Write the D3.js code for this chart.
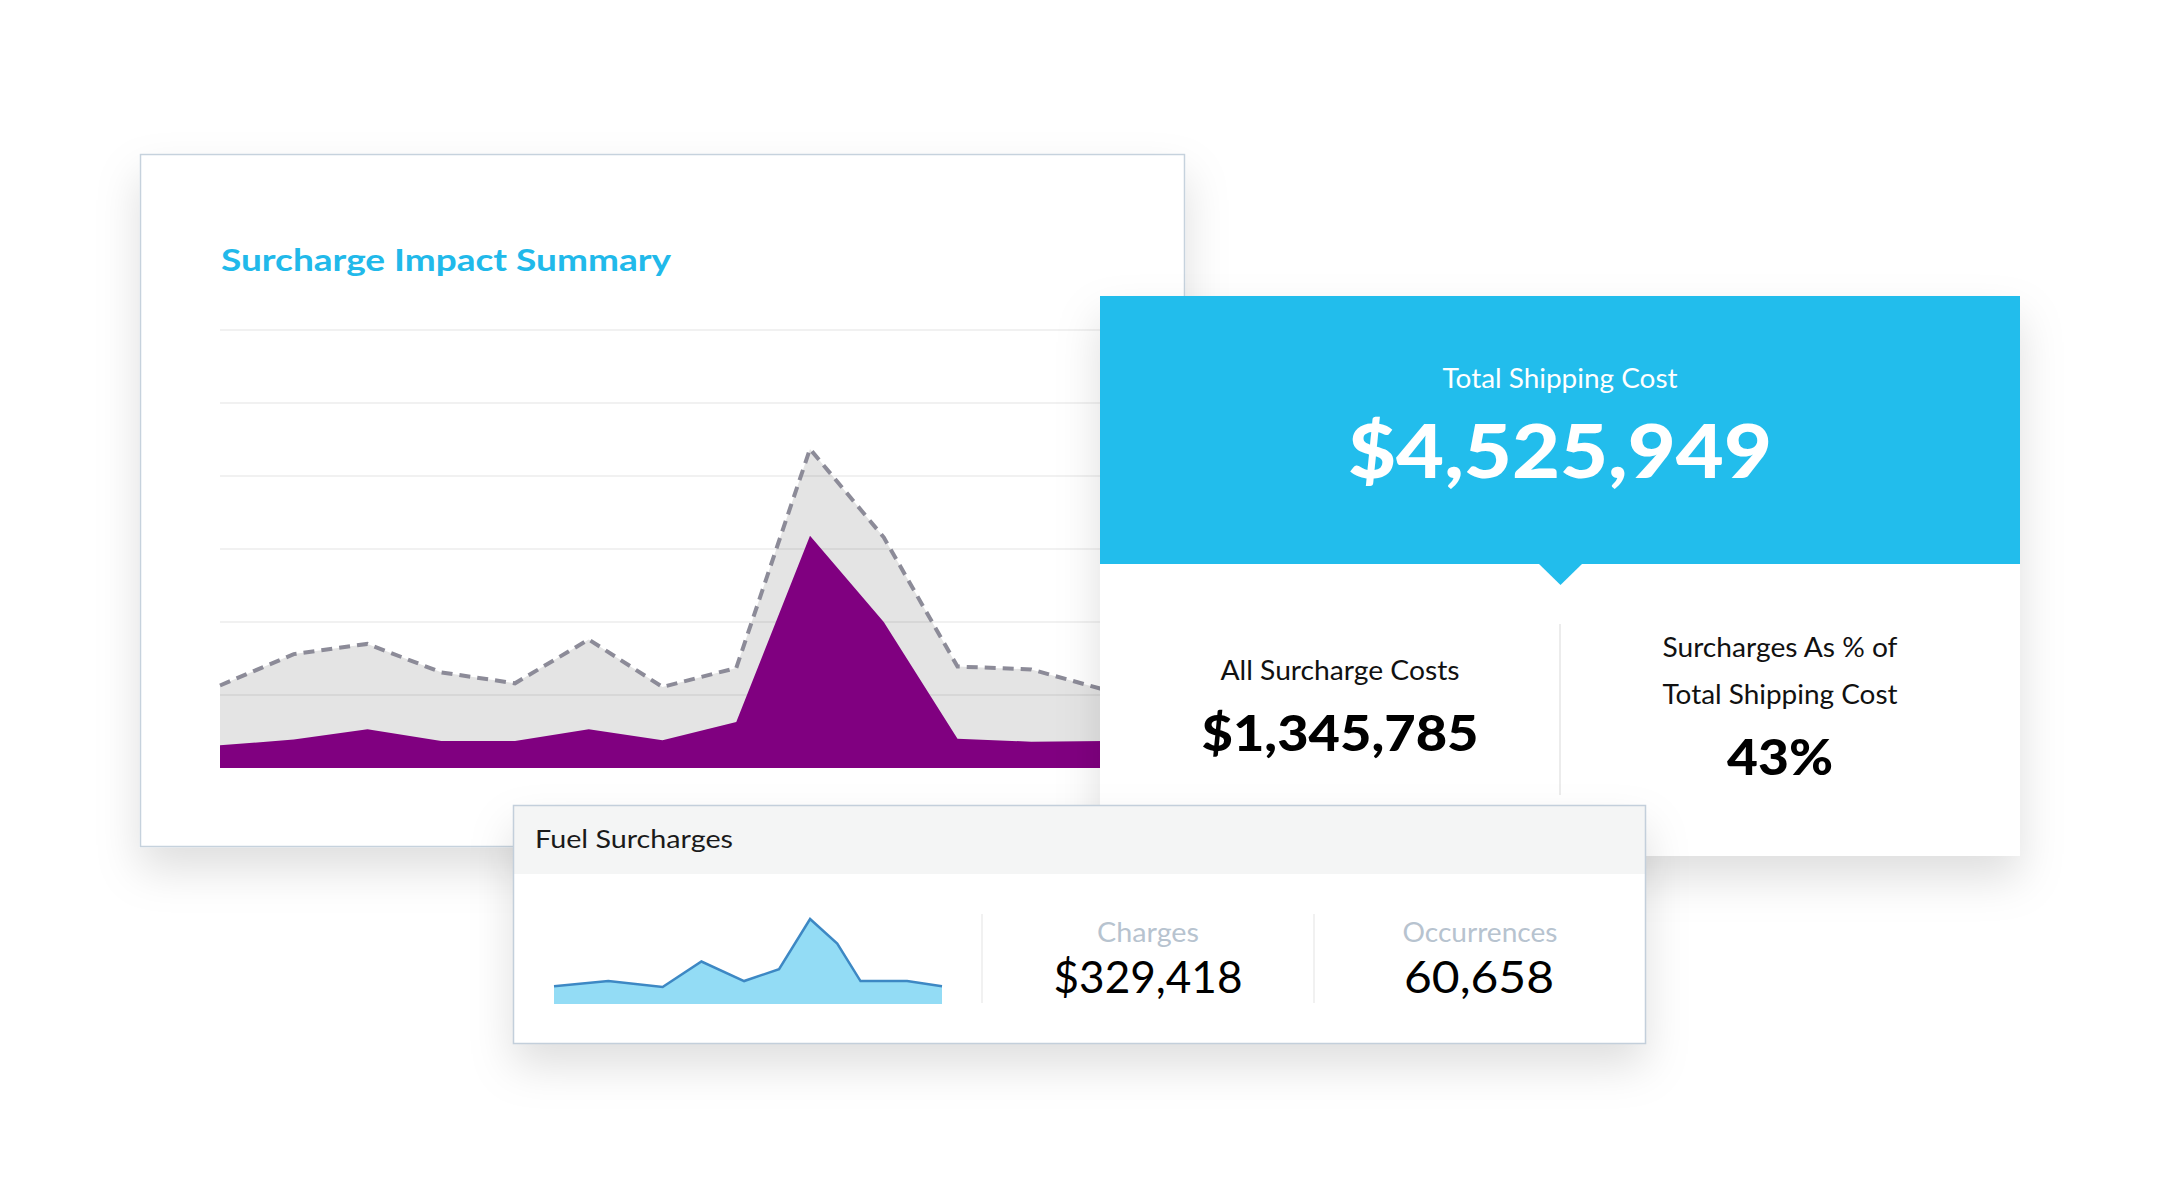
<!DOCTYPE html>
<html>
<head>
<meta charset="utf-8">
<script src="https://cdn.jsdelivr.net/npm/d3@7"></script>
<style>
    html, body { margin: 0; background: #fff; }
    svg { display: block; }
    text { font-family: Lato, "Open Sans", sans-serif; }
</style>
</head>
<body>
<svg width="2160" height="1200"></svg>
<script>
// chart data
const periods = ['W1', 'W2', 'W3', 'W4', 'W5', 'W6', 'W7', 'W8', 'W9', 'W10', 'W11', 'W12', 'W13']
const totalCost = [113, 156, 170, 131, 116, 176, 111, 137, 437, 316, 139, 135, 107]
const surchargeCost = [31, 39, 53, 37, 37, 53, 38, 63, 318, 200, 40, 36, 37]
const gridTicks = [100, 200, 300, 400, 500, 600]

// fuel sparkline
const fuelDays = [0, 14, 28, 38, 49, 58, 66, 73, 79, 91, 100]
const fuelCharges = [21, 27, 20, 50, 27, 41, 100, 71, 27, 27, 21]

// kpi texts
const title = 'Surcharge Impact Summary'
const kpiLabels = ['Total Shipping Cost', 'All Surcharge Costs', 'Surcharges As % of', 'Total Shipping Cost']
const kpiValues = ['$4,525,949', '$1,345,785', '43%']
const fuelTitle = 'Fuel Surcharges'
const fuelLabels = ['Charges', 'Occurrences']
const fuelValues = ['$329,418', '60,658']

let svg = d3.select('svg')

let defs = svg.append('defs')
defs.append('filter')
    .attr('id', 'shadow')
    .attr('x', '-20%').attr('y', '-20%')
    .attr('width', '140%').attr('height', '170%')
    .append('feDropShadow')
    .attr('dx', 0).attr('dy', 22)
    .attr('stdDeviation', 22)
    .attr('flood-color', '#000')
    .attr('flood-opacity', 0.13)

// text squeezed/stretched to the width it has in the picture
function label(g, txt, x, y, size, weight, color, anchor, width) {
    let t = g.append('text')
        .attr('x', x)
        .attr('y', y)
        .attr('font-size', size)
        .attr('font-weight', weight)
        .attr('fill', color)
        .attr('text-anchor', anchor)
        .text(txt)
    if (width) t.attr('textLength', width).attr('lengthAdjust', 'spacingAndGlyphs')
    return t
}

// ---- main card ----
let main = svg.append('g')
main.append('rect')
    .attr('x', 140.5).attr('y', 154.5)
    .attr('width', 1044).attr('height', 692)
    .attr('fill', '#fff')
    .attr('stroke', '#c6d2dd')
    .attr('stroke-width', 1.5)
    .attr('filter', 'url(#shadow)')

label(main, title, 221, 271, 30, 700, '#21b9ea', 'start', 450)

let scale = {
    x: d3.scalePoint().domain(periods).range([220, 1105]),
    y: d3.scaleLinear().domain([0, 600]).range([768, 330])
}

let totalArea = d3.area()
    .x((d, i) => scale.x(periods[i]))
    .y0(scale.y(0))
    .y1(d => scale.y(d))

main.append('path')
    .datum(totalCost)
    .attr('d', totalArea)
    .attr('fill', '#e4e4e4')

// gridlines
main.selectAll('.grid')
    .data(gridTicks)
    .enter()
    .append('line')
    .attr('class', 'grid')
    .attr('x1', scale.x.range()[0])
    .attr('x2', scale.x.range()[1])
    .attr('y1', d => scale.y(d))
    .attr('y2', d => scale.y(d))
    .attr('stroke', 'rgba(0,0,0,0.055)')
    .attr('stroke-width', 2)

main.append('path')
    .datum(surchargeCost)
    .attr('d', totalArea)
    .attr('fill', '#800080')

main.append('path')
    .datum(totalCost)
    .attr('d', d3.line().x((d, i) => scale.x(periods[i])).y(d => scale.y(d)))
    .attr('fill', 'none')
    .attr('stroke', '#8c8b98')
    .attr('stroke-width', 4)
    .attr('stroke-dasharray', '11,7')

// ---- total shipping card ----
let card = svg.append('g')
let cardBody = card.append('g').attr('filter', 'url(#shadow)')
cardBody.append('rect')
    .attr('x', 1100).attr('y', 296)
    .attr('width', 920).attr('height', 560)
    .attr('fill', '#fff')
cardBody.append('rect')
    .attr('x', 1100).attr('y', 296)
    .attr('width', 920).attr('height', 268)
    .attr('fill', '#23bdec')
cardBody.append('path')
    .attr('d', 'M1538,563 L1583,563 L1560.5,585 Z')
    .attr('fill', '#23bdec')

card.append('line')
    .attr('x1', 1560).attr('x2', 1560)
    .attr('y1', 624).attr('y2', 795)
    .attr('stroke', '#ececec')
    .attr('stroke-width', 2)

label(card, kpiLabels[0], 1560, 388, 27, 400, '#fff', 'middle', 235)
label(card, kpiValues[0], 1560, 478, 75, 900, '#fff', 'middle', 424)
label(card, kpiLabels[1], 1340, 680, 26, 400, '#111', 'middle', 239)
label(card, kpiValues[1], 1340, 751, 49, 900, '#000', 'middle', 277)
label(card, kpiLabels[2], 1780, 657, 26, 400, '#111', 'middle', 235)
label(card, kpiLabels[3], 1780, 704, 26, 400, '#111', 'middle', 235)
label(card, kpiValues[2], 1780, 775, 50, 900, '#000', 'middle', 106)

// ---- fuel surcharges card ----
let fuel = svg.append('g')
let fuelBox = fuel.append('g').attr('filter', 'url(#shadow)')
fuelBox.append('rect')
    .attr('x', 513.5).attr('y', 805.5)
    .attr('width', 1132).attr('height', 238)
    .attr('fill', '#fff')
fuel.append('rect')
    .attr('x', 514).attr('y', 806)
    .attr('width', 1131).attr('height', 68)
    .attr('fill', '#f4f5f5')
fuel.append('rect')
    .attr('x', 513.5).attr('y', 805.5)
    .attr('width', 1132).attr('height', 238)
    .attr('fill', 'none')
    .attr('stroke', '#c3cfdb')
    .attr('stroke-width', 1.5)

label(fuel, fuelTitle, 535, 848, 25, 400, '#1a1a1a', 'start', 198)

let spark = {
    x: d3.scaleLinear().domain([0, 100]).range([554, 942]),
    y: d3.scaleLinear().domain([0, d3.max(fuelCharges)]).range([1004, 919])
}

fuel.append('path')
    .datum(fuelCharges)
    .attr('d', d3.area()
        .x((d, i) => spark.x(fuelDays[i]))
        .y0(spark.y(0))
        .y1(d => spark.y(d)))
    .attr('fill', '#93dcf5')

fuel.append('path')
    .datum(fuelCharges)
    .attr('d', d3.line()
        .x((d, i) => spark.x(fuelDays[i]))
        .y(d => spark.y(d)))
    .attr('fill', 'none')
    .attr('stroke', '#3d88c4')
    .attr('stroke-width', 2.5)

fuel.selectAll('.divider')
    .data([982, 1314])
    .enter()
    .append('line')
    .attr('class', 'divider')
    .attr('x1', d => d).attr('x2', d => d)
    .attr('y1', 914).attr('y2', 1003)
    .attr('stroke', '#ececec')
    .attr('stroke-width', 1.5)

label(fuel, fuelLabels[0], 1148, 942, 26, 400, '#b7c3cf', 'middle', 102)
label(fuel, fuelValues[0], 1148, 993, 44, 400, '#000', 'middle', 189)
label(fuel, fuelLabels[1], 1480, 942, 26, 400, '#b7c3cf', 'middle', 155)
label(fuel, fuelValues[1], 1479, 993, 44, 400, '#000', 'middle', 150)
</script>
</body>
</html>
